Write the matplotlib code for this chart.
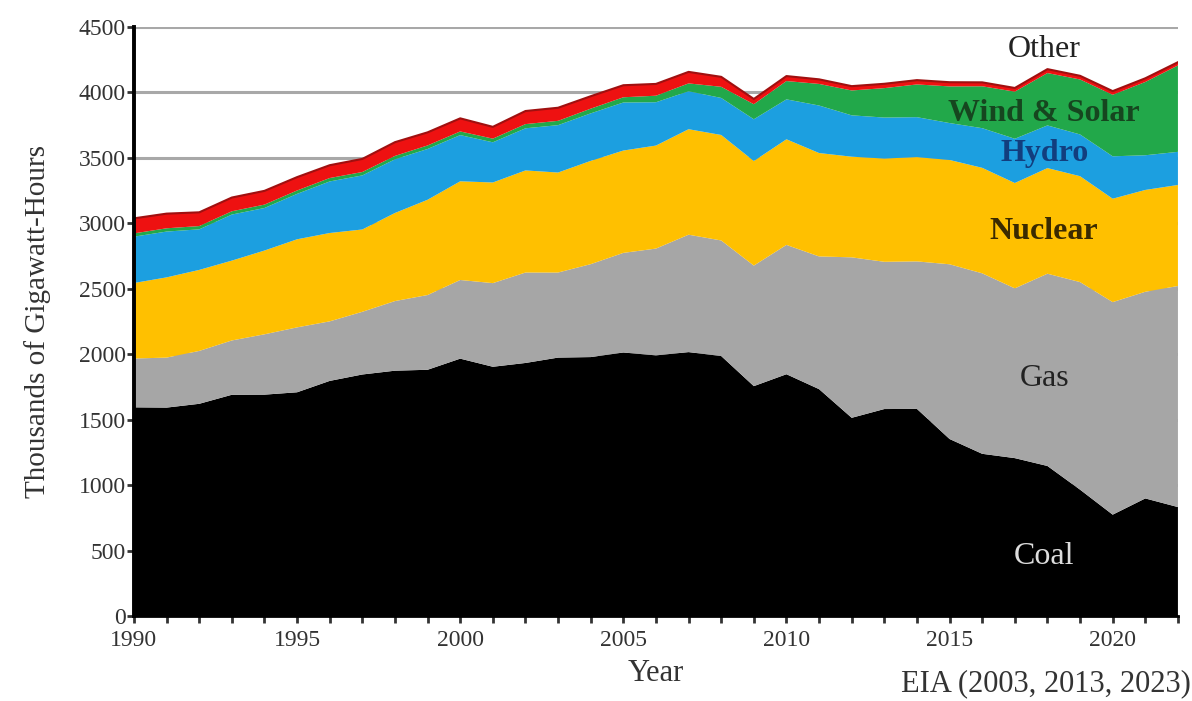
import matplotlib
matplotlib.use("Agg")
import matplotlib.pyplot as plt
import numpy as np

years = list(range(1990, 2023))

coal = [1594, 1592, 1621, 1690, 1691, 1709, 1796, 1845, 1874, 1881, 1966, 1904, 1933,
        1974, 1978, 2013, 1991, 2016, 1986, 1756, 1847, 1733, 1514, 1581, 1582, 1352,
        1239, 1206, 1146, 965, 774, 898, 832]
gas = [373, 382, 404, 415, 461, 496, 455, 479, 532, 571, 601, 639, 691, 650, 710, 761,
       816, 897, 883, 921, 988, 1014, 1226, 1125, 1127, 1335, 1379, 1297, 1469, 1586,
       1624, 1579, 1689]
nuclear = [577, 613, 619, 610, 640, 673, 675, 629, 673, 728, 754, 769, 780, 764, 789,
           782, 787, 806, 806, 799, 807, 790, 769, 789, 797, 797, 806, 805, 807, 809,
           790, 778, 772]
hydro = [354, 350, 310, 352, 325, 347, 394, 413, 410, 388, 353, 307, 322, 362, 363, 367,
         331, 290, 283, 319, 305, 363, 316, 313, 305, 282, 303, 338, 326, 319, 324, 265, 253]
wind_solar = [25, 25, 25, 25, 26, 26, 26, 26, 26, 27, 28, 28, 32, 33, 36, 40, 50, 60, 85,
              115, 140, 165, 190, 225, 250, 280, 320, 360, 400, 420, 470, 560, 660]
other = [115, 112, 105, 105, 105, 102, 98, 100, 105, 100, 100, 90, 100, 100, 95, 92, 90,
         88, 76, 40, 38, 35, 33, 33, 33, 32, 30, 28, 30, 28, 28, 28, 25]

series_names = ["Coal", "Gas", "Nuclear", "Hydro", "Wind & Solar", "Other"]
colors = ["#000000", "#a6a6a6", "#ffc000", "#1c9fe0", "#22a84a", "#ee1111"]
y_ticks = [0, 500, 1000, 1500, 2000, 2500, 3000, 3500, 4000, 4500]
x_major = [1990, 1995, 2000, 2005, 2010, 2015, 2020]

plt.rcParams['font.family'] = ['Liberation Serif', 'DejaVu Serif']

fig = plt.figure(figsize=(11.92, 7.01), dpi=100)
ax = fig.add_axes([0.1124, 0.1213, 0.8758, 0.8402])

ax.set_axisbelow(True)
ax.yaxis.grid(True, color="#a8a8a8", linewidth=2.2)
polys = ax.stackplot(years, coal, gas, nuclear, hydro, wind_solar, other,
                     colors=colors, labels=series_names, linewidth=0)
# dark red rim on top edge of the stack
top = np.array(coal) + np.array(gas) + np.array(nuclear) + np.array(hydro) \
    + np.array(wind_solar) + np.array(other)
ax.plot(years, top, color="#a01010", linewidth=1.5)

ax.set_xlim(1990, 2022)
ax.set_ylim(0, 4500)
ax.set_yticks(y_ticks)
ax.set_yticklabels([str(v) for v in y_ticks])
ax.set_xticks(x_major)
ax.set_xticklabels([str(v) for v in x_major])
ax.set_xticks(years, minor=True)

for s in ["top", "right"]:
    ax.spines[s].set_visible(False)
ax.spines["left"].set_linewidth(2.8)
ax.spines["bottom"].set_linewidth(2.0)
ax.tick_params(axis="both", which="both", direction="out", length=5, width=2,
               labelsize=17, colors="#333333")
ax.tick_params(axis="x", which="minor", length=5, width=2)
ax.tick_params(axis="x", pad=5)
ax.tick_params(axis="y", pad=1)

ax.set_ylabel("Thousands of Gigawatt-Hours", fontsize=21, color="#333333", labelpad=20)
ax.set_xlabel("Year", fontsize=22, color="#333333", labelpad=6)

fig.text(0.999, 0.004, "EIA (2003, 2013, 2023)", ha="right", va="bottom",
         fontsize=22, color="#333333")

lab_x = 2017.9
ax.text(lab_x, 4325, "Other", ha="center", va="center", fontsize=23, color="#222222")
ax.text(lab_x, 3836, "Wind & Solar", ha="center", va="center", fontsize=23,
        color="#16461f", fontweight="bold")
ax.text(lab_x, 3530, "Hydro", ha="center", va="center", fontsize=23,
        color="#123e7e", fontweight="bold")
ax.text(lab_x, 2935, "Nuclear", ha="center", va="center", fontsize=23,
        color="#3a2a00", fontweight="bold")
ax.text(lab_x, 1813, "Gas", ha="center", va="center", fontsize=23, color="#222222")
ax.text(lab_x, 454, "Coal", ha="center", va="center", fontsize=23, color="#dddddd")

fig.savefig("out.png", dpi=100)
